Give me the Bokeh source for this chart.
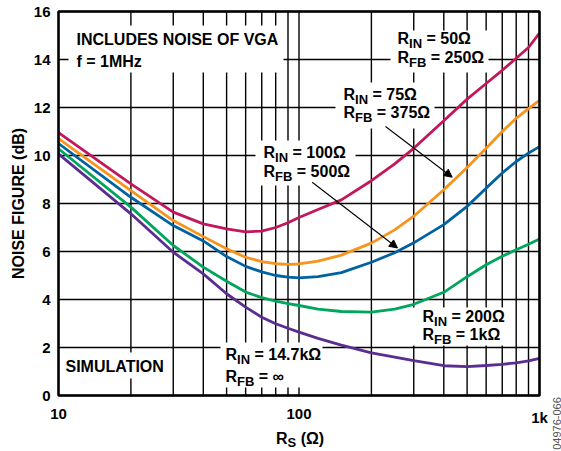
import math
from bokeh.plotting import figure
from bokeh.models import Label, Arrow, NormalHead, Range1d
from bokeh.core.properties import value
from bokeh.embed import file_html
from bokeh.resources import INLINE

# ---- data ----
rs = [10, 20, 30, 40, 50, 60, 70, 80, 90, 100, 120, 150, 200, 250, 300, 400, 500, 600, 700, 800, 900, 1000]
nf_rin50 = [10.95, 8.82, 7.64, 7.15, 6.94, 6.82, 6.85, 7.0, 7.2, 7.42, 7.75, 8.15, 8.95, 9.65, 10.3, 11.45, 12.35, 13.0, 13.55, 14.05, 14.5, 15.1]
nf_rin75 = [10.7, 8.54, 7.29, 6.62, 6.11, 5.76, 5.58, 5.49, 5.46, 5.48, 5.6, 5.85, 6.35, 6.9, 7.47, 8.57, 9.5, 10.3, 11.0, 11.55, 11.95, 12.3]
nf_rin100 = [10.5, 8.26, 7.08, 6.44, 5.79, 5.38, 5.15, 5.0, 4.93, 4.9, 4.95, 5.12, 5.55, 5.95, 6.36, 7.12, 7.88, 8.64, 9.27, 9.75, 10.1, 10.37]
nf_rin200 = [10.28, 7.85, 6.25, 5.35, 4.76, 4.31, 4.08, 3.93, 3.83, 3.75, 3.6, 3.5, 3.47, 3.6, 3.8, 4.3, 4.95, 5.45, 5.8, 6.07, 6.3, 6.52]
nf_rin14k7 = [10.07, 7.57, 5.97, 5.07, 4.24, 3.68, 3.26, 2.99, 2.8, 2.64, 2.38, 2.1, 1.78, 1.6, 1.45, 1.24, 1.2, 1.25, 1.3, 1.36, 1.44, 1.55]

x_major = [10, 100, 1000]
x_minor = [20, 30, 40, 50, 60, 70, 80, 90, 200, 300, 400, 500, 600, 700, 800, 900]
x_tick_labels = ["10", "100", "1k"]
y_ticks = [0, 2, 4, 6, 8, 10, 12, 14, 16]
y_tick_labels = [str(v) for v in y_ticks]
X_MIN, X_MAX, Y_MIN, Y_MAX = 10, 1000, 0, 16

colors = {"50": "#C2185B", "75": "#F7941D", "100": "#0062A0", "200": "#00A65D", "14k7": "#5B2D90"}

FONT = "Liberation Sans"

# ---- layout: the chart box inside a full-canvas frame ----
W_PX, H_PX = 561, 451
BOX_L, BOX_R, BOX_T, BOX_B = 58, 539, 11, 395
dec_px = (BOX_R - BOX_L) / (math.log10(X_MAX) - math.log10(X_MIN))
unit_px = (BOX_B - BOX_T) / (Y_MAX - Y_MIN)
x_lo = 10 ** (math.log10(X_MIN) - BOX_L / dec_px)
x_hi = 10 ** (math.log10(X_MAX) + (W_PX - BOX_R) / dec_px)
y_lo = Y_MIN - (H_PX - BOX_B) / unit_px
y_hi = Y_MAX + BOX_T / unit_px


def px_x(px):
    return 10 ** (math.log10(X_MIN) + (px - BOX_L) / dec_px)


def px_y(py):
    return Y_MIN + (BOX_B - py) / unit_px


p = figure(width=W_PX, height=H_PX, x_range=Range1d(x_lo, x_hi), y_range=Range1d(y_lo, y_hi),
           x_axis_type="log", x_axis_location=None, y_axis_location=None,
           output_backend="svg", toolbar_location=None,
           min_border_left=0, min_border_right=0, min_border_top=0, min_border_bottom=0)
p.outline_line_color = None
p.grid.visible = False
p.background_fill_color = "white"
p.border_fill_color = "white"

# grid
gx = x_major + x_minor
p.segment(x0=gx, y0=[Y_MIN] * len(gx), x1=gx, y1=[Y_MAX] * len(gx), line_color="black", line_width=1.4)
p.segment(x0=[X_MIN] * len(y_ticks), y0=y_ticks, x1=[X_MAX] * len(y_ticks), y1=y_ticks,
          line_color="black", line_width=1.4)

# white boxes behind the texts (page px: left, right, top, bottom)
boxes_px = [
    (68, 283, 25, 72),
    (390, 488, 30, 72),
    (335, 434, 82, 128),
    (255, 355, 140, 185),
    (412, 503, 307, 345),
    (220, 322, 342, 387),
    (62, 168, 352, 378),
]
p.quad(left=[px_x(b[0]) for b in boxes_px], right=[px_x(b[1]) for b in boxes_px],
       top=[px_y(b[2]) for b in boxes_px], bottom=[px_y(b[3]) for b in boxes_px],
       fill_color="white", line_color=None)

for key, ys in (("50", nf_rin50), ("75", nf_rin75), ("100", nf_rin100), ("200", nf_rin200), ("14k7", nf_rin14k7)):
    p.line(rs, ys, line_color=colors[key], line_width=2.8)

# frame
p.quad(left=[X_MIN], right=[X_MAX], bottom=[Y_MIN], top=[Y_MAX], fill_color=None,
       line_color="black", line_width=2.5)

# tick labels
p.text(x=x_major, y=[Y_MIN] * 3, text=x_tick_labels, y_offset=13, text_align="center",
       text_baseline="top", text_font=value(FONT), text_font_style="bold", text_font_size="15px",
       text_color="black")
p.text(x=[X_MIN] * len(y_ticks), y=y_ticks, text=y_tick_labels, x_offset=-8, text_align="right",
       text_baseline="middle", text_font=value(FONT), text_font_style="bold", text_font_size="15px",
       text_color="black")

Wd = {"R": 0.722, "I": 0.278, "N": 0.722, "F": 0.611, "B": 0.722, "S": 0.667, " ": 0.278}
CAP_MID = 0.36  # cap-height centre above the baseline, in em


def wid(s, size):
    return sum(Wd[c] for c in s) * size


def lab(px, base, text, size=16, dx=0, style="bold", color="black", **kw):
    # base: baseline position on the page; text drawn with a "middle" baseline
    p.add_layout(Label(x=px_x(px), y=px_y(base - CAP_MID * size), x_offset=dx, text=text,
                       text_font=FONT, text_font_style=style, text_font_size=f"{size}px",
                       text_color=color, text_baseline="middle",
                       text_align=kw.pop("align", "left"), **kw))


def rlab(px, base, sub, rest, size=16, sub_size=13, drop=4):
    lab(px, base, "R", size)
    lab(px, base + drop, sub, sub_size, dx=wid("R", size))
    lab(px, base, rest, size, dx=wid("R", size) + wid(sub, sub_size) + wid(" ", size))


lab(76, 45, "INCLUDES NOISE OF VGA")
lab(76, 67, "f = 1MHz")
lab(65, 372, "SIMULATION")

rlab(397, 43.5, "IN", "= 50Ω")
rlab(397, 63, "FB", "= 250Ω")
rlab(343, 100, "IN", "= 75Ω")
rlab(343, 118, "FB", "= 375Ω")
rlab(263, 158, "IN", "= 100Ω")
rlab(263, 176.5, "FB", "= 500Ω")
rlab(422, 322, "IN", "= 200Ω")
rlab(422, 340, "FB", "= 1kΩ")
rlab(225, 359.5, "IN", "= 14.7kΩ")
rlab(225, 381.5, "FB", "= ∞")

# arrows (page px)
for xs, ys, xe, ye in ((385, 126, 451.7, 176.7), (311.7, 181.7, 397, 247.5)):
    p.add_layout(Arrow(end=NormalHead(size=8, fill_color="black", line_color="black"),
                       x_start=px_x(xs), y_start=px_y(ys), x_end=px_x(xe), y_end=px_y(ye),
                       line_color="black", line_width=1.1))

# axis titles
p.add_layout(Label(x=px_x(18), y=px_y(203), text="NOISE FIGURE (dB)", text_font=FONT,
                   text_font_style="bold", text_font_size="16px", text_color="black",
                   angle=math.pi / 2, text_align="center", text_baseline="middle"))
rlab(275.5, 443.5, "S", "(Ω)", size=16, sub_size=13, drop=3)

p.add_layout(Label(x=px_x(556), y=px_y(423), text="04976-066", text_font=FONT,
                   text_font_size="11px", text_color="#555555",
                   angle=math.pi / 2, text_align="center", text_baseline="middle"))

open("out.html", "w").write(file_html(p, INLINE))
